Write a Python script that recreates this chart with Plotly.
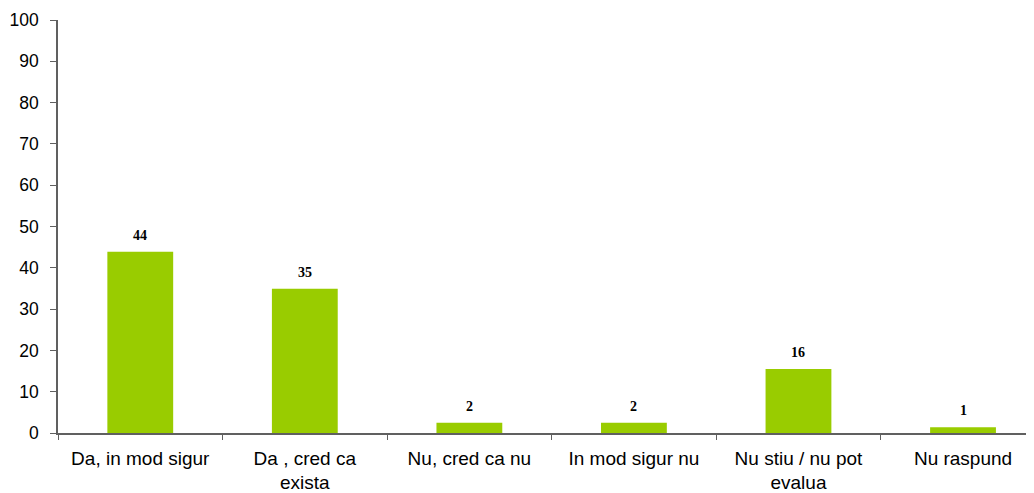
import plotly.graph_objects as go

# Survey answers (Romanian) and percentages
categories = ['Da, in mod sigur', 'Da , cred ca<br>exista', 'Nu, cred ca nu',
              'In mod sigur nu', 'Nu stiu / nu pot<br>evalua', 'Nu raspund']
values = [43.9, 34.9, 2.5, 2.5, 15.5, 1.4]
labels = ['44', '35', '2', '2', '16', '1']

fig = go.Figure()
fig.add_trace(go.Bar(
    x=categories,
    y=values,
    marker=dict(color='#99CC00', line=dict(width=0)),
    width=0.4,
))

# value labels above bars
for cat, val, lab in zip(categories, values, labels):
    fig.add_annotation(
        x=cat, y=val, text='<b>' + lab + '</b>',
        showarrow=False, yanchor='bottom', yshift=7,
        font=dict(family='Liberation Serif', size=14, color='black'),
    )

# page body adds an 8px margin, so margins are shifted to compensate
fig.update_layout(
    width=1034, height=493,
    margin=dict(l=50, r=0, t=12, b=68),
    paper_bgcolor='white', plot_bgcolor='white',
    showlegend=False,
    font=dict(family='Liberation Sans', size=16, color='black'),
    xaxis=dict(
        type='category', automargin=False,
        range=[-0.5, 5.48],
        showline=True, linecolor='#606060', linewidth=1.5,
        ticks='outside', tickson='boundaries', ticklen=5, tickcolor='#606060',
        showgrid=False, tickfont=dict(size=19), ticklabelstandoff=7,
    ),
    yaxis=dict(
        range=[0, 100], dtick=10, automargin=False,
        showline=True, linecolor='#606060', linewidth=1.5,
        ticks='outside', ticklen=6, tickcolor='#606060',
        showgrid=False, zeroline=False, tickfont=dict(size=17.5),
        ticklabelstandoff=8,
    ),
)

fig.write_html("out.html")
